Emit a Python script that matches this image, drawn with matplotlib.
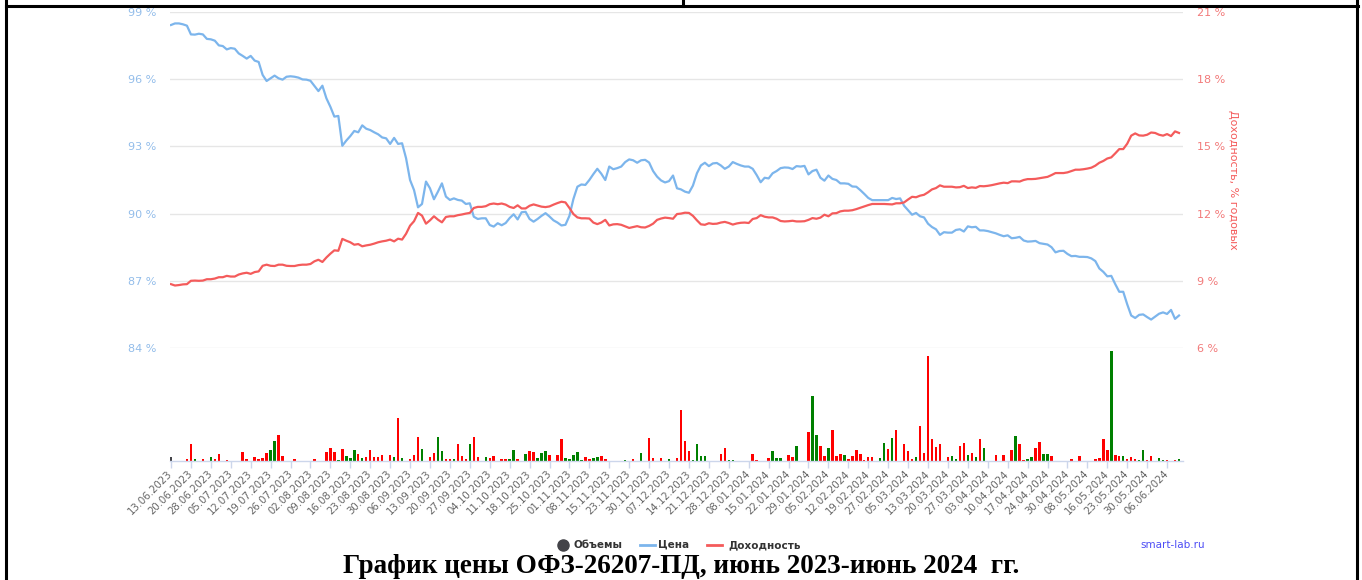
import matplotlib
matplotlib.use('Agg')
import matplotlib.pyplot as plt
from matplotlib.lines import Line2D
import numpy as np

tick_labels = [
    "13.06.2023", "20.06.2023", "28.06.2023", "05.07.2023", "12.07.2023", "19.07.2023",
    "26.07.2023", "02.08.2023", "09.08.2023", "16.08.2023", "23.08.2023", "30.08.2023",
    "06.09.2023", "13.09.2023", "20.09.2023", "27.09.2023", "04.10.2023", "11.10.2023",
    "18.10.2023", "25.10.2023", "01.11.2023", "08.11.2023", "15.11.2023", "23.11.2023",
    "30.11.2023", "07.12.2023", "14.12.2023", "21.12.2023", "28.12.2023", "08.01.2024",
    "15.01.2024", "22.01.2024", "29.01.2024", "05.02.2024", "12.02.2024", "19.02.2024",
    "27.02.2024", "05.03.2024", "13.03.2024", "20.03.2024", "27.03.2024", "03.04.2024",
    "10.04.2024", "17.04.2024", "24.04.2024", "30.04.2024", "08.05.2024", "16.05.2024",
    "23.05.2024", "30.05.2024", "06.06.2024",
]

price = [
    98.42, 98.49, 98.49, 98.45, 98.39, 98.00, 97.99, 98.03, 98.00, 97.80,
    97.78, 97.72, 97.51, 97.48, 97.33, 97.39, 97.36, 97.15, 97.04, 96.92,
    97.04, 96.83, 96.77, 96.19, 95.92, 96.04, 96.16, 96.04, 95.98, 96.11,
    96.13, 96.11, 96.07, 95.99, 95.98, 95.93, 95.70, 95.47, 95.71, 95.15,
    94.77, 94.33, 94.36, 93.03, 93.26, 93.46, 93.69, 93.63, 93.94, 93.79,
    93.73, 93.63, 93.54, 93.40, 93.36, 93.11, 93.38, 93.11, 93.14, 92.47,
    91.50, 91.05, 90.28, 90.43, 91.43, 91.13, 90.64, 90.98, 91.35, 90.76,
    90.61, 90.68, 90.61, 90.58, 90.43, 90.46, 89.86, 89.76, 89.79, 89.79,
    89.49, 89.42, 89.57, 89.48, 89.58, 89.80, 89.97, 89.74, 90.06, 90.08,
    89.76, 89.64, 89.76, 89.90, 90.02, 89.87, 89.70, 89.60, 89.47, 89.50,
    89.90, 90.65, 91.20, 91.30, 91.28, 91.50, 91.76, 92.00, 91.78, 91.50,
    92.10, 91.98, 92.03, 92.10, 92.30, 92.42, 92.38, 92.27, 92.38, 92.40,
    92.28, 91.90, 91.65, 91.48, 91.39, 91.45, 91.70, 91.13, 91.08, 90.98,
    90.93, 91.25, 91.80, 92.15, 92.27, 92.12, 92.24, 92.26, 92.15, 92.00,
    92.10, 92.30, 92.22, 92.15, 92.10, 92.10, 92.00, 91.72, 91.40, 91.60,
    91.57, 91.80, 91.90, 92.03, 92.06, 92.05, 91.99, 92.12, 92.10, 92.13,
    91.75, 91.90, 91.96, 91.60, 91.47, 91.70, 91.55, 91.50, 91.35, 91.35,
    91.33, 91.21, 91.20, 91.05, 90.88, 90.70, 90.60, 90.60, 90.60, 90.60,
    90.60, 90.70, 90.65, 90.68, 90.35, 90.15, 89.95, 90.03, 89.88, 89.83,
    89.55, 89.40, 89.30, 89.05, 89.17, 89.15, 89.15, 89.27, 89.30, 89.20,
    89.43, 89.39, 89.41, 89.25, 89.25, 89.22, 89.17, 89.12, 89.05, 88.99,
    89.03, 88.90, 88.92, 88.96, 88.80, 88.75, 88.76, 88.78, 88.68, 88.65,
    88.62, 88.50, 88.27, 88.33, 88.34, 88.20, 88.10, 88.11, 88.07, 88.07,
    88.06, 88.00, 87.88, 87.55, 87.40, 87.20, 87.22, 86.85, 86.51, 86.51,
    85.95, 85.45, 85.34, 85.48, 85.50, 85.38, 85.27, 85.40, 85.53, 85.59,
    85.52, 85.70, 85.30, 85.45,
]

yld = [
    8.85, 8.79, 8.81, 8.84, 8.85, 9.00, 9.01, 9.00, 9.01, 9.07,
    9.07, 9.10, 9.16, 9.16, 9.22, 9.19, 9.19, 9.28, 9.33, 9.36,
    9.31, 9.39, 9.42, 9.67, 9.72, 9.67, 9.66, 9.72, 9.72, 9.67,
    9.66, 9.66, 9.70, 9.72, 9.72, 9.75, 9.87, 9.94, 9.84, 10.04,
    10.21, 10.36, 10.34, 10.87, 10.79, 10.72, 10.61, 10.64, 10.54, 10.58,
    10.61, 10.66, 10.72, 10.76, 10.79, 10.84, 10.76, 10.88, 10.84, 11.10,
    11.46, 11.66, 12.03, 11.91, 11.55, 11.70, 11.88, 11.73, 11.61, 11.85,
    11.88, 11.88, 11.93, 11.96, 12.00, 12.03, 12.25, 12.30, 12.30, 12.33,
    12.42, 12.45, 12.42, 12.45, 12.40, 12.30, 12.25, 12.37, 12.23, 12.23,
    12.35, 12.41, 12.36, 12.31, 12.29, 12.32, 12.40, 12.47, 12.53, 12.50,
    12.25, 11.98, 11.83, 11.79, 11.79, 11.78, 11.60, 11.53, 11.60, 11.72,
    11.47, 11.52, 11.53, 11.50, 11.43, 11.36, 11.40, 11.44, 11.39, 11.38,
    11.45, 11.55, 11.72, 11.78, 11.82, 11.80, 11.77, 11.98, 12.00, 12.04,
    12.03, 11.90, 11.70, 11.52, 11.50, 11.57, 11.54, 11.55, 11.60, 11.63,
    11.58, 11.51, 11.56, 11.59, 11.60, 11.58, 11.76, 11.80, 11.93, 11.86,
    11.83, 11.83, 11.77, 11.67, 11.65, 11.66, 11.68, 11.65, 11.65, 11.66,
    11.72, 11.80, 11.77, 11.82, 11.95, 11.88, 12.01, 12.02, 12.10, 12.13,
    12.13, 12.15, 12.20, 12.26, 12.32, 12.38, 12.43, 12.43, 12.43, 12.43,
    12.42, 12.41, 12.46, 12.46, 12.50, 12.63, 12.75, 12.73, 12.80, 12.84,
    12.95, 13.08, 13.14, 13.26, 13.20, 13.20, 13.20, 13.17, 13.18, 13.24,
    13.14, 13.17, 13.15, 13.23, 13.22, 13.24, 13.27, 13.31, 13.35, 13.38,
    13.36, 13.44, 13.44, 13.43, 13.50, 13.54, 13.54, 13.55, 13.58, 13.61,
    13.64, 13.72, 13.81, 13.81, 13.81, 13.84, 13.90, 13.96, 13.96, 13.98,
    14.01, 14.05, 14.14, 14.27, 14.35, 14.46, 14.51, 14.69, 14.88, 14.88,
    15.12, 15.48, 15.58, 15.49, 15.48, 15.52, 15.62, 15.60, 15.52, 15.48,
    15.55, 15.46, 15.67, 15.60,
]

vol = [
    4.3, 0.4, 0.4, 0.4, 1.7, 16.7, 1.7, 0, 2.3, 0,
    4.3, 2.3, 7, 0, 1, 0.4, 0, 0, 9, 1.7,
    0, 4.3, 1.7, 3.3, 8.3, 11, 19.7, 26, 5, 0,
    0, 2.3, 0, 0.4, 0, 0, 2.3, 0, 0, 9,
    13, 9, 1, 12, 5, 3, 11, 7, 3.3, 4.3,
    11, 3.7, 4.3, 6, 0, 6, 4.3, 43, 3.3, 0,
    1.7, 6, 24, 12, 0, 4.3, 7.7, 24, 10, 2.3,
    1.7, 2.3, 16.7, 5, 1.7, 17.3, 23.7, 4.3, 0, 4.3,
    3, 5.3, 0, 1.7, 1.7, 2, 11, 2, 0, 7,
    9.7, 9, 3.3, 7.7, 9.7, 6, 0, 6, 22, 3.3,
    2, 6, 8.7, 1, 4.3, 1.7, 3.3, 4.3, 5, 2,
    0, 0, 0, 0, 1, 0, 2, 0, 7.7, 0,
    23, 3, 0, 3.3, 0, 1.7, 0, 3, 51, 20,
    10, 1, 16.7, 5, 5, 0, 0, 1, 7, 12.7,
    1, 1, 0, 0.4, 0.4, 0, 6.7, 1, 0, 0,
    3.3, 10, 3.3, 3.3, 0, 6, 4.3, 15.3, 0, 0,
    28.7, 65, 26, 15.3, 5, 13.3, 31, 5, 7, 6,
    2, 5, 11, 7, 1, 4.3, 4.3, 0, 3.3, 18.3,
    12, 23.3, 31, 0, 17, 10, 2, 4.3, 35.3, 7.7,
    105, 22, 14.3, 16.7, 0, 4.3, 5, 2, 15.3, 18.3,
    6, 7.7, 4.3, 22, 12.7, 0, 0, 6, 0, 6,
    0, 11, 25, 16.7, 1, 2, 4.3, 12.7, 19.3, 7,
    7, 5, 0, 0, 0, 0, 2, 0, 5, 0,
    0, 0, 1.7, 3.3, 22, 11, 110, 6, 5, 5,
    2, 4, 2, 1, 11, 1, 5, 0, 3.3, 1,
    1, 0, 1, 2,
]

# r = price down (red), g = price up (green), k = first/neutral, - = no trades
vol_side = "".join([
    "kkkkrrg-r-", "grr-rk--rr", "-rrrrggrr-", "-r-k--r--r", "rrgrgggrgr",
    "rrrr-rgrg-", "rrrg-rrggr", "rgrrrgrr-g", "rr-rrggr-g", "rrgggr-rrg",
    "ggggrrggrr", "----g-r-g-", "rr-r-g-rrr", "rggggg--rr", "gg-kk-rr--",
    "rggg-rrg--", "rggrrgrrrg", "rrrrrrr-gg", "rgr-rrrgrr", "rrrr-rggrr",
    "grgrg--r-r", "-rgrrggrrg", "gr----r-r-", "--rrrrgrrg", "rrrggrr-gg",
    "r-rg",
])

W, H = 1362, 580
fig = plt.figure(figsize=(W / 100, H / 100), dpi=100)


def fx(px):
    return px / W


def fy(py):
    return 1 - py / H


L, R = 170, 1183
top_t, top_b, vol_b = 12, 348, 461

ax = fig.add_axes([fx(L), fy(top_b), (R - L) / W, (top_b - top_t) / H])
ax2 = ax.twinx()
axv = fig.add_axes([fx(L), fy(vol_b), (R - L) / W, (vol_b - top_b) / H])

x = np.arange(len(price))
for a in (ax, ax2, axv):
    a.set_xlim(-0.25, 254.0)
    for s in a.spines.values():
        s.set_visible(False)
    a.set_facecolor('none')

ax.set_ylim(84, 99)
ax2.set_ylim(6, 21)
yt = [84, 87, 90, 93, 96, 99]
ax.set_yticks(yt)
ax.set_yticklabels([f"{v} %" for v in yt])
yt2 = [6, 9, 12, 15, 18, 21]
ax2.set_yticks(yt2)
ax2.set_yticklabels([f"{v} %" for v in yt2])
for v in yt:
    ax.axhline(v, color='#e6e6e6', lw=1.0, zorder=0)
ax.tick_params(axis='y', length=0, pad=10, labelsize=8, labelcolor='#93bdea')
ax2.tick_params(axis='y', length=0, pad=10, labelsize=8, labelcolor='#f27a7a')
ax.set_xticks([])
ax2.set_xticks([])

ax.plot(x, price, color='#7cb5ec', lw=1.6, zorder=3, solid_joinstyle='round')
ax2.plot(x, yld, color='#f45b5b', lw=1.6, zorder=3, solid_joinstyle='round')

cmap = {'r': '#ff0000', 'g': '#008000', 'k': '#434348', '-': '#ffffff'}
colors = [cmap[c] for c in vol_side]
axv.bar(x, vol, width=0.62, color=colors, linewidth=0)
axv.set_ylim(0, 113)
axv.set_yticks([])
axv.spines['bottom'].set_visible(True)
axv.spines['bottom'].set_color('#ccd6eb')
axv.spines['bottom'].set_linewidth(1)
axv.set_xticks(np.arange(0, 251, 5))
axv.set_xticklabels(tick_labels, rotation=45, ha='right', va='center',
                    rotation_mode='anchor')
axv.tick_params(axis='x', length=5, width=1, color='#ccd6eb', pad=3,
                labelsize=7.3, labelcolor='#666666')

fig.text(fx(1233), fy(180), "Доходность, % годовых", rotation=270,
         ha='center', va='center', color='#f45b5b', fontsize=8)

# legend
ly = fy(545)
fig.add_artist(Line2D([fx(563)], [ly], marker='o', ms=8, color='#434348',
                      transform=fig.transFigure))
fig.text(fx(574), ly, "Объемы", ha='left', va='center', fontsize=7.5,
         color='#333333', fontweight='bold')
fig.add_artist(Line2D([fx(640), fx(655)], [ly, ly], color='#7cb5ec', lw=2,
                      transform=fig.transFigure))
fig.text(fx(658), ly, "Цена", ha='left', va='center', fontsize=7.5,
         color='#333333', fontweight='bold')
fig.add_artist(Line2D([fx(707), fx(722)], [ly, ly], color='#f45b5b', lw=2,
                      transform=fig.transFigure))
fig.text(fx(728), ly, "Доходность", ha='left', va='center', fontsize=7.5,
         color='#333333', fontweight='bold')
fig.text(fx(1140), ly, "smart-lab.ru", ha='left', va='center', fontsize=7.5,
         color='#4d4df5')

fig.text(fx(681), fy(573), "График цены ОФЗ-26207-ПД, июнь 2023-июнь 2024  гг.",
         ha='center', va='baseline', fontsize=19.5, fontweight='bold',
         family=['Liberation Serif', 'DejaVu Serif'], color='black')

# frame lines
for xs, ys in [((5.5, 1358), (6, 6)), ((5.5, 5.5), (0, 580)),
               ((1357, 1357), (0, 580)), ((683, 683), (0, 6))]:
    fig.add_artist(Line2D([fx(xs[0]), fx(xs[1])], [fy(ys[0]), fy(ys[1])],
                          color='black', lw=2.2, transform=fig.transFigure))

fig.savefig('out.png', dpi=100)
